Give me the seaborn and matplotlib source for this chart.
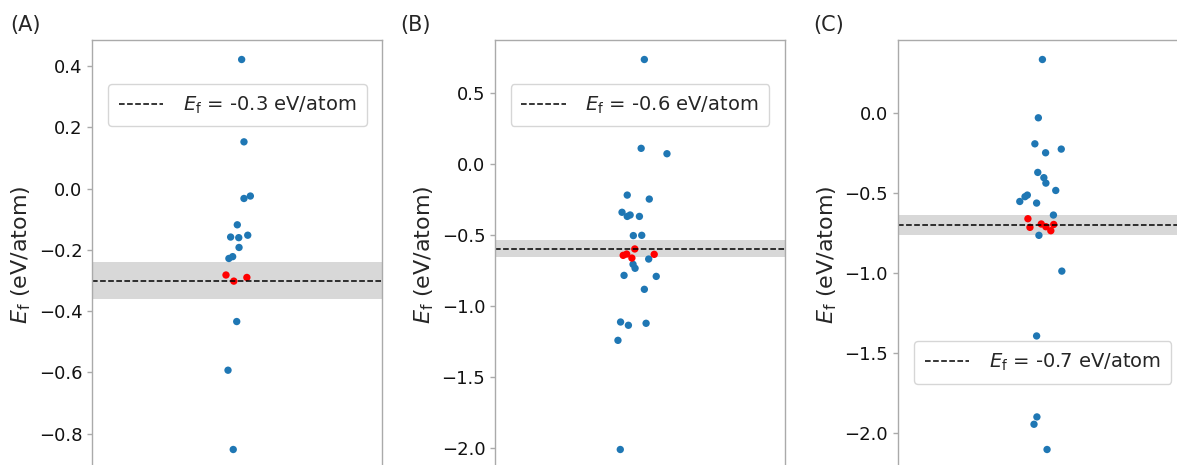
import matplotlib
matplotlib.use("Agg")
import matplotlib.pyplot as plt
import numpy as np
import pandas as pd
import seaborn as sns

sns.set_style("white")
plt.rcParams["font.family"] = ["DejaVu Sans"]
plt.rcParams["mathtext.fontset"] = "dejavusans"
plt.rcParams["axes.unicode_minus"] = True

# Formation energies (eV/atom) and horizontal strip offsets for each panel.
# "other" points are blue, "near" points (close to the reference energy) are red.
a_other_ef = [0.422, 0.153, -0.032, -0.024, -0.118, -0.158, -0.160, -0.152,
              -0.192, -0.228, -0.222, -0.434, -0.593, -0.852]
a_other_jit = [0.015, 0.023, 0.023, 0.045, 0.000, -0.023, 0.005, 0.036,
               0.006, -0.029, -0.016, -0.002, -0.032, -0.014]
a_near_ef = [-0.282, -0.302, -0.290]
a_near_jit = [-0.039, -0.012, 0.033]

b_other_ef = [0.733, 0.108, 0.070, -0.221, -0.249, -0.342, -0.371, -0.361,
              -0.371, -0.506, -0.504, -0.671, -0.708, -0.736, -0.786, -0.793,
              -0.884, -1.114, -1.137, -1.123, -1.243, -2.011]
b_other_jit = [0.015, 0.004, 0.093, -0.044, 0.032, -0.062, -0.044, -0.034,
               -0.002, -0.023, 0.006, 0.030, -0.024, -0.017, -0.055, 0.056,
               0.015, -0.067, -0.040, 0.021, -0.076, -0.068]
b_near_ef = [-0.600, -0.645, -0.636, -0.664, -0.638]
b_near_jit = [-0.018, -0.058, -0.046, -0.028, 0.049]

c_other_ef = [0.336, -0.029, -0.192, -0.248, -0.225, -0.371, -0.404, -0.438,
              -0.484, -0.513, -0.523, -0.553, -0.563, -0.638, -0.765, -0.989,
              -1.395, -1.902, -1.948, -2.106]
c_other_jit = [-0.001, -0.015, -0.027, 0.010, 0.064, -0.017, 0.004, 0.011,
               0.045, -0.053, -0.061, -0.079, -0.021, 0.037, -0.013, 0.066,
               -0.021, -0.020, -0.030, 0.015]
c_near_ef = [-0.661, -0.715, -0.694, -0.711, -0.736, -0.697]
c_near_jit = [-0.051, -0.044, -0.005, 0.011, 0.028, 0.038]

panel_labels = ["(A)", "(B)", "(C)"]
ref_energies = [-0.3, -0.6, -0.7]
band_halfwidth = 0.06
legend_anchor_y = [0.921, 0.921, 0.321]

panels = [
    (a_other_ef, a_other_jit, a_near_ef, a_near_jit),
    (b_other_ef, b_other_jit, b_near_ef, b_near_jit),
    (c_other_ef, c_other_jit, c_near_ef, c_near_jit),
]

fig = plt.figure(figsize=(11.77, 4.65), dpi=100)

ax_lefts = [92.3 / 1177, 495.0 / 1177, 897.7 / 1177]
ax_w = 290.0 / 1177
ax_bottom = 1 - 469.0 / 465
ax_h = 429.0 / 465

label_x = [10.0 / 1177, 400.0 / 1177, 813.0 / 1177]

for i, (o_ef, o_jit, n_ef, n_jit) in enumerate(panels):
    ax = fig.add_axes([ax_lefts[i], ax_bottom, ax_w, ax_h])
    ef0 = ref_energies[i]

    ax.axhspan(ef0 - band_halfwidth, ef0 + band_halfwidth,
               color="gray", alpha=0.3, lw=0, zorder=0.5)

    df = pd.DataFrame({
        "offset": list(o_jit) + list(n_jit),
        "ef": list(o_ef) + list(n_ef),
        "group": ["other"] * len(o_ef) + ["near"] * len(n_ef),
    })
    sns.scatterplot(data=df, x="offset", y="ef", hue="group",
                    palette={"other": "#1f77b4", "near": "red"},
                    s=28, linewidth=0, legend=False, ax=ax, zorder=1.5)

    ax.axhline(ef0, color="black", ls="--", lw=1.1,
               label=r"$E_\mathrm{f}$ = " + f"{ef0:.1f}" + " eV/atom", zorder=2)

    ax.set_xlim(-0.5, 0.5)
    ax.set_xticks([])
    ax.set_xlabel("")
    ax.set_ylabel(r"$E_\mathrm{f}$ (eV/atom)", fontsize=16)
    ax.tick_params(axis="y", left=True, length=3.5, width=1, color="#aaaaaa",
                   labelsize=13, labelcolor="#111111")
    for sp in ax.spines.values():
        sp.set_color("#aaaaaa")
        sp.set_linewidth(1.0)

    ax.legend(loc="upper center", bbox_to_anchor=(0.5, legend_anchor_y[i]),
              fontsize=14, frameon=True, handlelength=2.3, handletextpad=1.0,
              borderpad=0.55)

    fig.text(label_x[i], 1 - 25.0 / 465, panel_labels[i], fontsize=15,
             ha="left", va="center")

fig.savefig("out.png", dpi=100)
